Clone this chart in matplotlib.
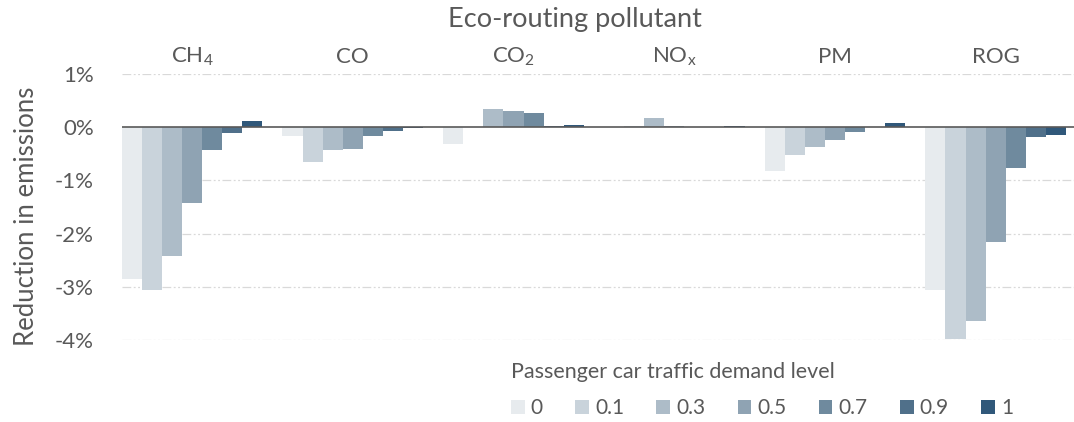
import matplotlib
matplotlib.use('Agg')
import matplotlib.pyplot as plt
from matplotlib.patches import Patch
import numpy as np

plt.rcParams['font.family'] = ['Lato', 'DejaVu Sans']
plt.rcParams['mathtext.fontset'] = 'custom'
plt.rcParams['mathtext.rm'] = 'Lato'

# data (percent change in emissions)
pollutants = ['CH$_\\mathregular{4}$', 'CO', 'CO$_\\mathregular{2}$', 'NO$_\\mathregular{x}$', 'PM', 'ROG']
levels = ['0', '0.1', '0.3', '0.5', '0.7', '0.9', '1']
ch4 = [-2.86, -3.06, -2.42, -1.43, -0.43, -0.11, 0.12]
co = [-0.17, -0.66, -0.43, -0.41, -0.17, -0.06, -0.02]
co2 = [-0.31, 0.00, 0.35, 0.30, 0.28, 0.02, 0.04]
nox = [0.00, 0.02, 0.17, 0.02, 0.01, 0.00, 0.03]
pm = [-0.83, -0.52, -0.37, -0.23, -0.09, 0.00, 0.09]
rog = [-3.07, -3.99, -3.65, -2.16, -0.77, -0.19, -0.14]

colors = ['#e7ebee', '#c9d3db', '#adbcc8', '#8fa3b3', '#6f8a9e', '#50708a', '#30587a']
txt = '#595959'

vals = np.array([ch4, co, co2, nox, pm, rog])

W, H = 1074, 422
fig = plt.figure(figsize=(W / 100, H / 100), dpi=100)
ax = fig.add_axes([121.7 / W, 1 - 339.7 / H, 1 - 121.7 / W, (339.7 - 74.3) / H])

grp = np.arange(len(pollutants)) * 8
for j, lev in enumerate(levels):
    ax.bar(grp + j + 0.5, vals[:, j], width=1.0, color=colors[j], label=lev, zorder=2)

ax.set_xlim(0, 47.4)
ax.set_ylim(-4, 1)
ax.set_yticks([-4, -3, -2, -1, 0, 1])
ax.set_yticklabels(['%d%%' % t for t in [-4, -3, -2, -1, 0, 1]])
ax.tick_params(axis='y', length=0, pad=20, labelsize=16, labelcolor=txt)
ax.tick_params(axis='x', length=0)
ax.set_xticks([])
for s in ax.spines.values():
    s.set_visible(False)

for t in [-4, -3, -2, -1, 1]:
    ax.axhline(t, color='#d9d9d9', lw=0.9, ls=(0, (7, 2, 1.5, 2, 1.5, 2)), zorder=1)
ax.axhline(0, color='#595959', lw=1.2, zorder=3)

# category labels on top
for i, p in enumerate(pollutants):
    ax.text(grp[i] + 3.5, 1 + (74.3 - 57) / 53.1, p, ha='center', va='center',
            fontsize=16, color=txt, transform=ax.transData, clip_on=False)

fig.text(575 / W, 1 - 20 / H, 'Eco-routing pollutant', ha='center', va='center',
         fontsize=19.5, color=txt)
fig.text(27 / W, 1 - 216 / H, 'Reduction in emissions', ha='center', va='center',
         rotation=90, fontsize=18.5, color=txt)

# legend
fig.text(511 / W, 1 - 372 / H, 'Passenger car traffic demand level', ha='left', va='center',
         fontsize=15.5, color=txt)
handles = [Patch(facecolor=c) for c in colors]
leg = fig.legend(handles, levels, loc='center left', bbox_to_anchor=(511 / W, 1 - 408 / H),
                 ncol=7, frameon=False, fontsize=15, handlelength=0.65, handleheight=0.65,
                 handletextpad=0.3, columnspacing=1.55, borderpad=0, borderaxespad=0)
for t in leg.get_texts():
    t.set_color(txt)

fig.savefig('out.png', dpi=100)
